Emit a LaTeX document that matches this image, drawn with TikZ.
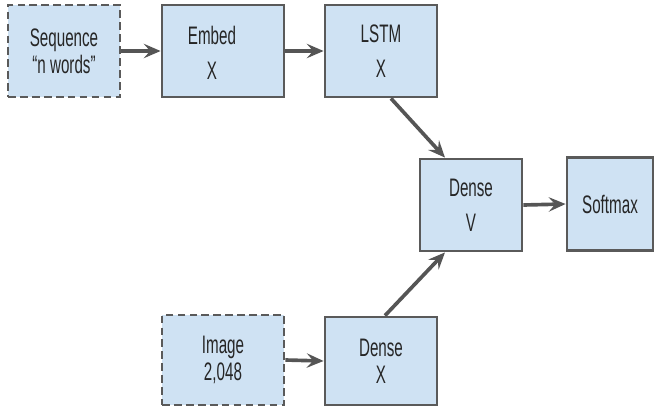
\documentclass[tikz,border=0pt]{standalone}
\usepackage{fontspec}
\usepackage{xcolor}
\usepackage{tikz}
\usetikzlibrary{arrows.meta,positioning}
\newfontfamily\boxfont[FakeStretch=0.6]{Liberation Sans}
\definecolor{boxfill}{HTML}{CFE2F3}
\definecolor{boxline}{HTML}{5A5A5A}
\definecolor{arrowgray}{HTML}{555555}

\begin{document}
\begin{tikzpicture}[x=0.025cm, y=-0.025cm,
    layer/.style={draw=boxline, line width=2pt, fill=boxfill, inner sep=0pt,
                  font=\boxfont\fontsize{18}{19}\selectfont, align=center, text=black!85},
    inputbox/.style={layer, dashed, dash pattern=on 5.5pt off 3pt},
    arrow/.style={-{Stealth[length=4.2mm, width=3.6mm, inset=1.6mm]}, line width=2.6pt, color=arrowgray}
]
\useasboundingbox (0,0) rectangle (654,410);

%% Sequence branch
\node[inputbox, minimum width=2.8cm, minimum height=2.3cm] (seq) at (64,51) {Sequence\\“n words”};
\node[layer, minimum width=3.05cm, minimum height=2.3cm] (embed) at (223,51) {};
\node[font=\boxfont\fontsize{18}{19}\selectfont, align=center, text=black!85] (embedtxt) at (212,53) {Embed\\[0.2cm]X};
\node[layer, minimum width=2.8cm, minimum height=2.3cm] (lstm) at (381,51) {LSTM\\[0.2cm]X};

%% Image branch
\node[inputbox, minimum width=3.05cm, minimum height=2.25cm] (image) at (223,360) {Image\\2,048};
\node[layer, minimum width=2.8cm, minimum height=2.2cm] (densex) at (381,361) {Dense\\X};

%% Merge and output
\node[layer, minimum width=2.55cm, minimum height=2.3cm] (densev) at (471,205) {Dense\\[0.2cm]V};
\node[layer, minimum width=2.15cm, minimum height=2.325cm] (softmax) at (610,204) {Softmax};

%% Arrows
\draw[arrow] (seq.east) -- (embed.west);
\draw[arrow] (embed.east) -- (lstm.west);
\draw[arrow] ([xshift=0.25cm]lstm.south) -- ([xshift=-0.65cm]densev.north);
\draw[arrow] ([xshift=0.1cm]densex.north) -- ([xshift=-0.65cm]densev.south);
\draw[arrow] (densev.east) -- (softmax.west);
\draw[arrow] (image.east) -- (densex.west);

\end{tikzpicture}
\end{document}
